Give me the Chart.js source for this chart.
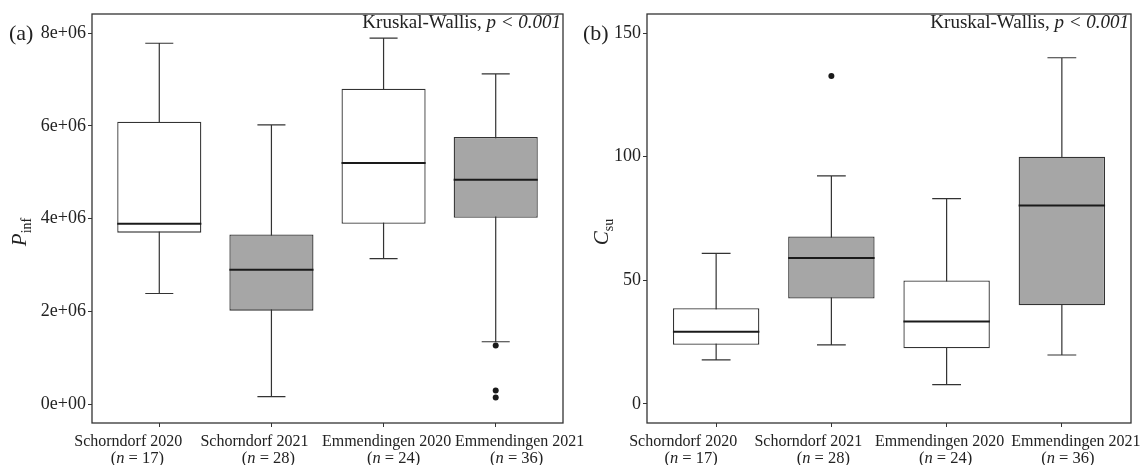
<!DOCTYPE html>
<html>
<head>
<title>Pinf and Csu box plots</title>
<script src="https://cdn.jsdelivr.net/npm/chart.js"></script>
<style>
    body {margin: 0; background: #fff;}
    #wrap {position: relative; width: 1148px; height: 465px; overflow: hidden;}
    .panel {position: absolute; top: 0; height: 465px;}
</style>
</head>
<body>
<div id="wrap">
    <div class="panel" style="left: 0px; width: 600px;"><canvas id="chartA"></canvas></div>
    <div class="panel" style="left: 574px; width: 574px;"><canvas id="chartB"></canvas></div>
</div>
<script>
var sites = ['Schorndorf 2020', 'Schorndorf 2021', 'Emmendingen 2020', 'Emmendingen 2021'];
var sampleSizes = [17, 28, 24, 36];
var boxFill = ['#ffffff', '#a6a6a6', '#ffffff', '#a6a6a6'];

// (a) P_inf
var pinfLow = [2.39e6, 0.17e6, 3.14e6, 1.35e6];
var pinfQ1 = [3.70e6, 2.02e6, 3.89e6, 4.02e6];
var pinfMedian = [3.89e6, 2.90e6, 5.20e6, 4.84e6];
var pinfQ3 = [6.09e6, 3.66e6, 6.80e6, 5.76e6];
var pinfHigh = [7.78e6, 6.02e6, 7.89e6, 7.12e6];
var pinfOutliers = [[], [], [], [1.27e6, 0.30e6, 0.15e6]];
var pinfTicks = [0, 2e6, 4e6, 6e6, 8e6];

// (b) C_su
var csuLow = [17.8, 23.9, 7.8, 19.8];
var csuQ1 = [23.9, 42.6, 22.5, 39.9];
var csuMedian = [29.2, 59.0, 33.3, 80.3];
var csuQ3 = [38.7, 67.7, 49.9, 100.0];
var csuHigh = [60.9, 92.2, 83.0, 140.0];
var csuOutliers = [[], [132.6], [], []];
var csuTicks = [0, 50, 100, 150];

var SERIF = '"Liberation Serif", "Times New Roman", serif';
var INK = '#222';

function sciLabel(v) {
    // 8e+6 -> 8e+06, like R does
    return Number(v).toExponential(0).replace(/e([+-])(\d)$/, 'e$10$2');
}

function drawRich(ctx, parts, x, y, size, align) {
    var widths = parts.map(function(p) {
        ctx.font = (p.italic ? 'italic ' : '') + size + 'px ' + SERIF;
        return ctx.measureText(p.t).width;
    });
    var total = widths.reduce(function(a, b) { return a + b; }, 0);
    var cx = align === 'right' ? x - total : (align === 'center' ? x - total / 2 : x);
    ctx.textAlign = 'left';
    ctx.textBaseline = 'alphabetic';
    parts.forEach(function(p, i) {
        ctx.font = (p.italic ? 'italic ' : '') + size + 'px ' + SERIF;
        ctx.fillText(p.t, cx, y);
        cx += widths[i];
    });
}

function boxPlugin(cfg) {
    return {
        id: 'boxplot',
        beforeDatasetsDraw: function(chart) {
            var ctx = chart.ctx, xs = chart.scales.x, ys = chart.scales.y;
            var unit = xs.getPixelForValue(2) - xs.getPixelForValue(1);
            ctx.save();
            ctx.strokeStyle = '#333';
            ctx.lineWidth = 1.2;
            for (var i = 0; i < sites.length; i++) {
                var x = xs.getPixelForValue(i + 1);
                var lo = ys.getPixelForValue(cfg.low[i]), hi = ys.getPixelForValue(cfg.high[i]);
                ctx.beginPath();
                ctx.moveTo(x, lo); ctx.lineTo(x, hi);
                ctx.moveTo(x - unit * 0.125, lo); ctx.lineTo(x + unit * 0.125, lo);
                ctx.moveTo(x - unit * 0.125, hi); ctx.lineTo(x + unit * 0.125, hi);
                ctx.stroke();
            }
            ctx.restore();
        },
        afterDatasetsDraw: function(chart) {
            var ctx = chart.ctx, xs = chart.scales.x, ys = chart.scales.y;
            var unit = xs.getPixelForValue(2) - xs.getPixelForValue(1);
            ctx.save();
            ctx.strokeStyle = '#1a1a1a';
            ctx.lineWidth = 2;
            for (var i = 0; i < sites.length; i++) {
                var x = xs.getPixelForValue(i + 1);
                var m = ys.getPixelForValue(cfg.median[i]);
                ctx.beginPath();
                ctx.moveTo(x - unit * 0.375, m); ctx.lineTo(x + unit * 0.375, m);
                ctx.stroke();
            }
            ctx.restore();
        },
        afterDraw: function(chart) {
            var ctx = chart.ctx, a = chart.chartArea, xs = chart.scales.x, ys = chart.scales.y;
            ctx.save();
            // panel frame
            ctx.strokeStyle = '#333';
            ctx.lineWidth = 1.3;
            ctx.strokeRect(a.left, a.top, a.right - a.left, a.bottom - a.top);

            ctx.fillStyle = INK;
            // panel letter
            ctx.font = '22px ' + SERIF;
            ctx.textAlign = 'left';
            ctx.textBaseline = 'middle';
            ctx.fillText(cfg.letter, cfg.letterX, ys.getPixelForValue(cfg.ticks[cfg.ticks.length - 1]) + 1);

            // test annotation
            drawRich(ctx, [{t: 'Kruskal-Wallis, '}, {t: 'p < 0.001', italic: true}], a.right - 2, a.top + 14, 19, 'right');

            // x labels, two lines; the long names are spread out so they don't collide
            for (var i = 0; i < sites.length; i++) {
                var x = xs.getPixelForValue(i + 1);
                drawRich(ctx, [{t: sites[i]}], x + cfg.shift1[i], a.bottom + 23, 16, 'center');
                drawRich(ctx, [{t: '('}, {t: 'n', italic: true}, {t: ' = ' + sampleSizes[i] + ')'}],
                    x + cfg.shift2[i], a.bottom + 40, 16.5, 'center');
            }

            // y title with subscript
            ctx.translate(cfg.titleX, cfg.titleY);
            ctx.rotate(-Math.PI / 2);
            ctx.font = 'italic 21px ' + SERIF;
            var wMain = ctx.measureText(cfg.title).width;
            ctx.font = '14px ' + SERIF;
            var wSub = ctx.measureText(cfg.sub).width;
            var start = -(wMain + wSub) / 2;
            ctx.textAlign = 'left';
            ctx.textBaseline = 'alphabetic';
            ctx.font = 'italic 21px ' + SERIF;
            ctx.fillText(cfg.title, start, 0);
            ctx.font = '14px ' + SERIF;
            ctx.fillText(cfg.sub, start + wMain, 5);
            ctx.restore();
        }
    };
}

function makePanel(id, cfg) {
    var boxes = sites.map(function(s, i) {
        return {x: i + 1, y: [cfg.q1[i], cfg.q3[i]]};
    });
    var outliers = [];
    cfg.outliers.forEach(function(list, i) {
        list.forEach(function(v) { outliers.push({x: i + 1, y: v}); });
    });

    new Chart(document.getElementById(id), {
        type: 'bar',
        data: {
            datasets: [{
                type: 'scatter',
                data: outliers,
                pointRadius: 3,
                pointBackgroundColor: '#1a1a1a',
                pointBorderWidth: 0
            }, {
                data: boxes,
                backgroundColor: boxFill,
                borderColor: '#333',
                borderWidth: 1.3,
                borderSkipped: false,
                barPercentage: 0.75,
                categoryPercentage: 1
            }]
        },
        options: {
            responsive: true,
            maintainAspectRatio: false,
            animation: false,
            layout: {padding: {top: 14, right: cfg.padRight, left: 0, bottom: 0}},
            plugins: {legend: {display: false}, tooltip: {enabled: false}},
            scales: {
                x: {
                    type: 'linear',
                    offset: false,
                    min: 0.4,
                    max: 4.6,
                    afterBuildTicks: function(scale) {
                        scale.ticks = [1, 2, 3, 4].map(function(v) { return {value: v}; });
                    },
                    afterFit: function(scale) { scale.height = 42; },
                    ticks: {display: false},
                    grid: {drawOnChartArea: false, offset: false, tickLength: 4, color: '#333'},
                    border: {display: false}
                },
                y: {
                    min: cfg.min,
                    max: cfg.max,
                    afterBuildTicks: function(scale) {
                        scale.ticks = cfg.ticks.map(function(v) { return {value: v}; });
                    },
                    afterFit: function(scale) { scale.width = cfg.axisWidth; },
                    ticks: {
                        padding: 2,
                        color: INK,
                        font: {family: SERIF, size: 18},
                        callback: cfg.format
                    },
                    grid: {drawOnChartArea: false, tickLength: 4, color: '#333'},
                    border: {display: false}
                }
            }
        },
        plugins: [boxPlugin(cfg)]
    });
}

// canvas A is 600 wide (overlapping B a bit) so its last label can run past the gap
makePanel('chartA', {
    q1: pinfQ1, q3: pinfQ3, median: pinfMedian, low: pinfLow, high: pinfHigh,
    outliers: pinfOutliers, ticks: pinfTicks, min: -0.40e6, max: 8.41e6,
    format: sciLabel, axisWidth: 92, padRight: 37,
    shift1: [-31, -17, 3, 24], shift2: [-22, -3, 10, 21],
    letter: '(a)', letterX: 9, title: 'P', sub: 'inf', titleX: 26, titleY: 232
});

makePanel('chartB', {
    q1: csuQ1, q3: csuQ3, median: csuMedian, low: csuLow, high: csuHigh,
    outliers: csuOutliers, ticks: csuTicks, min: -7.7, max: 157.7,
    format: function(v) { return v; }, axisWidth: 73, padRight: 17,
    shift1: [-33, -23, -7, 14], shift2: [-25, -8, -1, 6],
    letter: '(b)', letterX: 9, title: 'C', sub: 'su', titleX: 34, titleY: 232
});
</script>
</body>
</html>
